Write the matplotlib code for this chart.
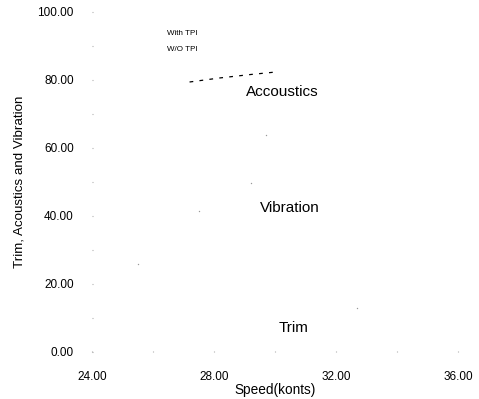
import matplotlib
matplotlib.use("Agg")
import matplotlib.pyplot as plt
from matplotlib.ticker import MultipleLocator, FormatStrFormatter

plt.rcParams['font.family'] = ['Liberation Sans', 'DejaVu Sans']

# acoustics, W/O TPI (only visible remnant of the curves)
speed_wo = [27.2, 28.2, 29.2, 30.1]
acoustics_wo = [79.4, 80.6, 81.6, 82.4]

# faint leftover points of the other curves
speed_faint = [29.7, 29.2, 27.5, 25.5, 32.7]
value_faint = [63.8, 49.7, 41.5, 25.9, 12.9]

legend_labels = ["With TPI", "W/O TPI"]
curve_labels = ["Accoustics", "Vibration", "Trim"]
curve_label_pos = [(30.25, 76.5), (30.5, 42.4), (30.6, 7.0)]

fig = plt.figure(figsize=(4.79, 3.99), dpi=100)
ax = fig.add_axes([0.192, 0.118, 0.764, 0.852])

ax.plot(speed_wo, acoustics_wo, color="black", lw=0.9, ls=(0, (3, 5)))
ax.scatter(speed_faint, value_faint, s=1, color="#999999", lw=0)

for lab, (x, y) in zip(curve_labels, curve_label_pos):
    ax.text(x, y, lab, fontsize=11, ha="center", va="center")

ax.text(26.45, 93.8, legend_labels[0], fontsize=5.8, va="center")
ax.text(26.45, 89.0, legend_labels[1], fontsize=5.8, va="center")

ax.set_xlim(24, 36)
ax.set_ylim(0, 100)
ax.xaxis.set_major_locator(MultipleLocator(4))
ax.xaxis.set_minor_locator(MultipleLocator(2))
ax.yaxis.set_major_locator(MultipleLocator(20))
ax.yaxis.set_minor_locator(MultipleLocator(10))
ax.xaxis.set_major_formatter(FormatStrFormatter("%.2f"))
ax.yaxis.set_major_formatter(FormatStrFormatter("%.2f"))
ax.tick_params(which="both", length=1, width=0.8, color="#aaaaaa", labelsize=8.5)
ax.tick_params(axis="x", which="both", direction="in", pad=14)
ax.tick_params(axis="y", which="both", direction="in", pad=13)
for s in ax.spines.values():
    s.set_visible(False)

ax.set_xlabel("Speed(konts)", fontsize=9.8, labelpad=0)
ax.set_ylabel("Trim, Acoustics and Vibration", fontsize=9.6, labelpad=9)

fig.savefig("out.png", dpi=100)
